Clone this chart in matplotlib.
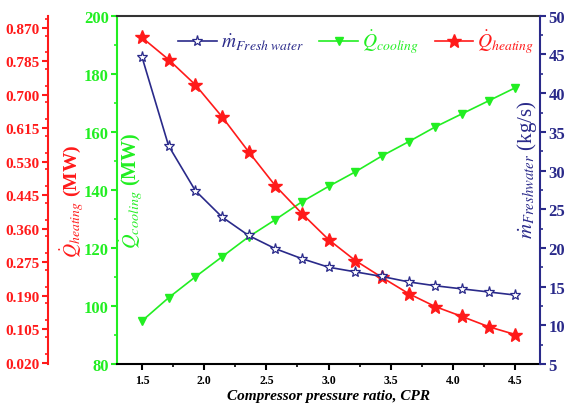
import numpy as np
import matplotlib
matplotlib.use('Agg')
import matplotlib.pyplot as plt
from matplotlib.ticker import MultipleLocator, FormatStrFormatter

plt.rcParams['font.family'] = ['Liberation Serif', 'DejaVu Serif']
plt.rcParams['mathtext.fontset'] = 'stix'

# compressor pressure ratio
cpr = [1.5, 1.714, 1.929, 2.143, 2.357, 2.571, 2.786, 3.0,
       3.214, 3.429, 3.643, 3.857, 4.071, 4.286, 4.5]

# heating load (MW)
q_heating = [0.845, 0.789, 0.725, 0.644, 0.555, 0.469, 0.398, 0.332,
             0.279, 0.236, 0.195, 0.162, 0.137, 0.111, 0.091]

# cooling load (MW)
q_cooling = [94.8, 102.8, 110.0, 116.9, 123.8, 129.7, 135.9, 141.2,
             146.2, 151.7, 156.6, 161.7, 166.2, 170.7, 175.2]

# fresh water mass flow (kg/s)
m_fresh = [44.7, 33.2, 27.4, 24.0, 21.6, 19.9, 18.6, 17.5,
           16.9, 16.3, 15.6, 15.1, 14.7, 14.3, 13.9]

red = '#ff1a1a'
green = '#22ee22'
navy = '#2a2a8a'

fig = plt.figure(figsize=(5.71, 4.10), dpi=100)
ax = fig.add_axes([0.205, 0.110, 0.741, 0.849])

# green axis (cooling) is the main one
l_cool, = ax.plot(cpr, q_cooling, color=green, marker='v', markersize=6,
                  linewidth=1.2, label=r'$\dot{Q}_{cooling}$')
ax.set_xlim(1.3, 4.7)
ax.set_ylim(80, 200)
ax.xaxis.set_major_locator(MultipleLocator(0.5))
ax.xaxis.set_minor_locator(MultipleLocator(0.25))
ax.xaxis.set_major_formatter(FormatStrFormatter('%.1f'))
ax.yaxis.set_major_locator(MultipleLocator(20))
ax.yaxis.set_minor_locator(MultipleLocator(10))
ax.spines['left'].set_color(green)
ax.spines['left'].set_linewidth(1.5)
ax.spines['bottom'].set_linewidth(1.5)
ax.spines['top'].set_linewidth(1.5)
ax.spines['top'].set_color('#333333')
ax.spines['right'].set_visible(False)
ax.tick_params(axis='y', colors=green, labelsize=12, direction='out', width=1.5, length=4, pad=2)
ax.tick_params(axis='y', which='minor', colors=green, width=1.2, length=2.5)
ax.tick_params(axis='x', labelsize=8.5, direction='out', width=1.5, length=4)
ax.tick_params(axis='x', which='minor', width=1.2, length=2.5)
for lab in ax.get_xticklabels() + ax.get_yticklabels():
    lab.set_fontweight('bold')
ax.set_xlabel('Compressor pressure ratio, CPR', fontsize=11, fontweight='bold',
              fontstyle='italic', labelpad=2)
ax.set_ylabel(r'$\dot{Q}_{cooling}$ (MW)', color=green, fontsize=14.5, fontweight='bold')
ax.yaxis.set_label_coords(0.033, 0.50)
ax.yaxis.label.set_va('center')

# red axis (heating) offset to the left
ax_h = ax.twinx()
l_heat, = ax_h.plot(cpr, q_heating, color=red, marker='*', markersize=10,
                    linewidth=1.2, label=r'$\dot{Q}_{heating}$')
ax_h.set_ylim(0.0166, 0.900)
ax_h.set_yticks(np.arange(0.020, 0.871, 0.085))
ax_h.yaxis.set_minor_locator(MultipleLocator(0.0425))
ax_h.yaxis.set_major_formatter(FormatStrFormatter('%.3f'))
ax_h.yaxis.set_ticks_position('left')
ax_h.spines['left'].set_position(('axes', -0.163))
ax_h.spines['left'].set_visible(True)
ax_h.spines['left'].set_color(red)
ax_h.spines['left'].set_linewidth(1.5)
for s in ['right', 'top', 'bottom']:
    ax_h.spines[s].set_visible(False)
ax_h.tick_params(axis='y', colors=red, labelsize=11, direction='out', width=1.5, length=4, pad=2)
ax_h.tick_params(axis='y', which='minor', colors=red, width=1.2, length=2.5)
for lab in ax_h.get_yticklabels():
    lab.set_fontweight('bold')
ax_h.set_ylabel(r'$\dot{Q}_{heating}$ (MW)', color=red, fontsize=14, fontweight='bold')
ax_h.yaxis.set_label_position('left')
ax_h.yaxis.set_label_coords(-0.106, 0.47)
ax_h.yaxis.label.set_va('center')

# navy axis (fresh water) on the right
ax_m = ax.twinx()
l_fresh, = ax_m.plot(cpr, m_fresh, color=navy, marker='*', markersize=8,
                     markerfacecolor='white', markeredgecolor=navy, markeredgewidth=0.9,
                     linewidth=1.2, label=r'$\dot{m}_{Fresh\ water}$')
ax_m.set_ylim(5, 50)
ax_m.yaxis.set_major_locator(MultipleLocator(5))
ax_m.yaxis.set_minor_locator(MultipleLocator(2.5))
ax_m.spines['right'].set_color(navy)
ax_m.spines['right'].set_linewidth(1.5)
for s in ['left', 'top', 'bottom']:
    ax_m.spines[s].set_visible(False)
ax_m.tick_params(axis='y', colors=navy, labelsize=12, direction='out', width=1.5, length=4, pad=2)
ax_m.tick_params(axis='y', which='minor', colors=navy, width=1.2, length=2.5)
for lab in ax_m.get_yticklabels():
    lab.set_fontweight('bold')
ax_m.set_ylabel(r'$\dot{m}_{Freshwater}$ (kg/s)', color=navy, fontsize=15)
ax_m.yaxis.set_label_coords(0.968, 0.56)
ax_m.yaxis.label.set_va('center')

leg = ax.legend([l_fresh, l_cool, l_heat],
                [r'$\dot{m}_{Fresh\ water}$', r'$\dot{Q}_{cooling}$', r'$\dot{Q}_{heating}$'],
                loc='upper center', bbox_to_anchor=(0.565, 1.015), ncol=3, frameon=False,
                fontsize=14, handlelength=2.0, handletextpad=0.2, columnspacing=0.8)
for txt, c in zip(leg.get_texts(), [navy, green, red]):
    txt.set_color(c)

fig.savefig('out.png', dpi=100)
